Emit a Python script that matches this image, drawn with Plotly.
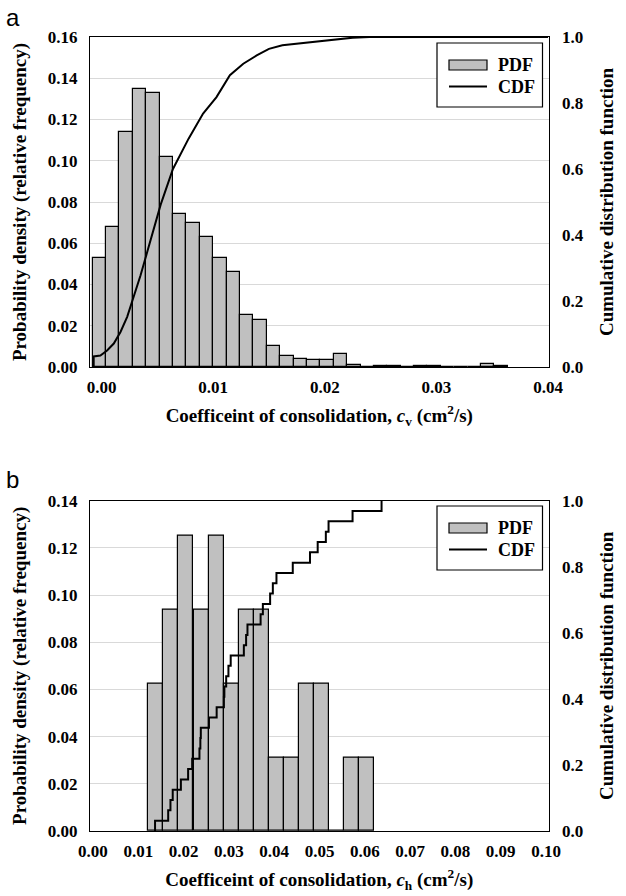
import plotly.graph_objects as go

# ---------------- data: panel a (c_v) ----------------
cv_bin_centers = [-0.0002, 0.0010, 0.0022, 0.0034, 0.0046, 0.0058, 0.0070, 0.0082, 0.0094, 0.0106,
                  0.0118, 0.0130, 0.0142, 0.0154, 0.0166, 0.0178, 0.0190, 0.0202, 0.0214, 0.0226,
                  0.0238, 0.0250, 0.0262, 0.0274, 0.0286, 0.0298, 0.0310, 0.0322, 0.0334, 0.0346,
                  0.0358]
cv_bin_width = 0.0012
cv_pdf = [0.053, 0.068, 0.114, 0.135, 0.133, 0.102, 0.074, 0.070, 0.063, 0.053,
          0.046, 0.025, 0.023, 0.010, 0.0054, 0.0041, 0.0033, 0.0033, 0.0061, 0.0008,
          0.0, 0.0006, 0.0006, 0.0, 0.0006, 0.0006, 0.0, 0.0, 0.0, 0.0016,
          0.0007]
cv_cdf_x = [-0.0007, -0.0007, -0.0001, 0.0005, 0.0011, 0.0017, 0.0023, 0.0029, 0.0035, 0.0041,
            0.0047, 0.0053, 0.0064, 0.0078, 0.0091, 0.0103, 0.0115, 0.0127, 0.0139, 0.0150,
            0.0162, 0.0175, 0.0195, 0.0212, 0.0225, 0.0240, 0.0300, 0.0400]
cv_cdf_y = [0.0, 0.032, 0.035, 0.050, 0.071, 0.106, 0.152, 0.215, 0.278, 0.349,
            0.420, 0.492, 0.600, 0.692, 0.768, 0.818, 0.884, 0.919, 0.944, 0.964,
            0.975, 0.980, 0.986, 0.992, 0.998, 1.0, 1.0, 1.0]

# ---------------- data: panel b (c_h) ----------------
ch_bin_centers = [0.0139, 0.0172, 0.0205, 0.0239, 0.0272, 0.0305, 0.0338, 0.0371, 0.0405, 0.0438,
                  0.0471, 0.0504, 0.0537, 0.0571, 0.0604]
ch_bin_width = 0.00332
ch_pdf = [0.0625, 0.09375, 0.125, 0.09375, 0.125, 0.0625, 0.09375, 0.09375, 0.03125, 0.03125,
          0.0625, 0.0625, 0.0, 0.03125, 0.03125]
# sorted sample values (32 samples) at which the empirical CDF steps
ch_samples = [0.0137, 0.0166, 0.0171, 0.0176, 0.0194, 0.0210, 0.0219, 0.0235, 0.0237, 0.0238,
              0.0256, 0.0273, 0.0289, 0.0290, 0.0294, 0.0299, 0.0304, 0.0333, 0.0338, 0.0341,
              0.0370, 0.0375, 0.0391, 0.0397, 0.0405, 0.0441, 0.0479, 0.0496, 0.0514, 0.0520,
              0.0573, 0.0637]
n_ch = len(ch_samples)
ch_cdf_x = [ch_samples[0]] + ch_samples
ch_cdf_y = [0.0] + [(i + 1) / n_ch for i in range(n_ch)]

legend_labels = ["PDF", "CDF"]

# ---------------- styling ----------------
W, H = 626, 896
SERIF = "Liberation Serif"
BAR_FILL = "#c0c0c0"
GRID = "#d9d9d9"


def px(v):
    return v / W


def py(v):
    return 1 - v / H


tickfont = dict(family=SERIF, size=17, color="black", weight="bold")
titlefont = dict(family=SERIF, size=19, color="black", weight="bold")
legfont = dict(family=SERIF, size=18, color="black", weight="bold")

fig = go.Figure()

fig.add_trace(go.Bar(x=cv_bin_centers, y=cv_pdf, width=cv_bin_width, name=legend_labels[0],
                     marker=dict(color=BAR_FILL, line=dict(color="black", width=1.2)),
                     xaxis="x", yaxis="y", showlegend=False))
fig.add_trace(go.Scatter(x=cv_cdf_x, y=cv_cdf_y, mode="lines", name=legend_labels[1],
                         line=dict(color="black", width=2),
                         xaxis="x", yaxis="y2", showlegend=False))

fig.add_trace(go.Bar(x=ch_bin_centers, y=ch_pdf, width=ch_bin_width, name=legend_labels[0],
                     marker=dict(color=BAR_FILL, line=dict(color="black", width=1.2)),
                     xaxis="x2", yaxis="y3", showlegend=False))
fig.add_trace(go.Scatter(x=ch_cdf_x, y=ch_cdf_y, mode="lines", name=legend_labels[1],
                         line=dict(color="black", width=2, shape="hv"),
                         xaxis="x2", yaxis="y4", showlegend=False))

xdom = [px(90), px(548.5)]
ydom_a = [py(367), py(37)]
ydom_b = [py(831), py(500.7)]

common_x = dict(showgrid=False, showline=True, linecolor="black", linewidth=1, mirror=True,
                ticks="outside", ticklen=5, tickcolor="rgba(0,0,0,0)", tickfont=tickfont,
                tickformat=".2f", dtick=0.01, zeroline=False, automargin=False)
common_y = dict(showgrid=True, gridcolor=GRID, gridwidth=1, showline=True, linecolor="black",
                linewidth=1, mirror=True, ticks="outside", ticklen=8,
                tickcolor="rgba(0,0,0,0)", tickfont=tickfont, zeroline=False, automargin=False)
common_y2 = dict(showgrid=False, showline=False, ticks="outside", ticklen=9,
                 tickcolor="rgba(0,0,0,0)", tickfont=tickfont, zeroline=False,
                 automargin=False, side="right", range=[0, 1.0], dtick=0.2, tickformat=".1f")

xtitle_a = "Coefficeint of consolidation, <i>c</i><sub>v</sub> (cm<sup>2</sup>/s)"
xtitle_b = "Coefficeint of consolidation, <i>c</i><sub>h</sub> (cm<sup>2</sup>/s)"
ytitle_l = "Probability density (relative frequency)"
ytitle_r = "Cumulative distribution function"

# hand-made legend boxes (wide rectangular PDF swatch as in the reference)
shapes = []
annotations = []
for top in (43, 506):
    shapes.append(dict(type="rect", xref="paper", yref="paper",
                       x0=px(437), x1=px(542.5), y0=py(top + 64), y1=py(top),
                       line=dict(color="black", width=1.2), fillcolor="white", layer="above"))
    shapes.append(dict(type="rect", xref="paper", yref="paper",
                       x0=px(449), x1=px(487), y0=py(top + 27), y1=py(top + 17),
                       line=dict(color="black", width=1.2), fillcolor=BAR_FILL, layer="above"))
    shapes.append(dict(type="line", xref="paper", yref="paper",
                       x0=px(449), x1=px(487), y0=py(top + 43.5), y1=py(top + 43.5),
                       line=dict(color="black", width=2), layer="above"))
    annotations.append(dict(text=legend_labels[0], x=px(496), y=py(top + 22), xref="paper",
                            yref="paper", xanchor="left", yanchor="middle", showarrow=False,
                            font=legfont))
    annotations.append(dict(text=legend_labels[1], x=px(496), y=py(top + 44), xref="paper",
                            yref="paper", xanchor="left", yanchor="middle", showarrow=False,
                            font=legfont))

annotations += [
    dict(text="a", x=px(4), y=py(2), xref="paper", yref="paper", xanchor="left",
         yanchor="top", showarrow=False,
         font=dict(family="Liberation Sans", size=24, color="black")),
    dict(text="b", x=px(4), y=py(464), xref="paper", yref="paper", xanchor="left",
         yanchor="top", showarrow=False,
         font=dict(family="Liberation Sans", size=24, color="black")),
]

fig.update_layout(
    width=W, height=H,
    margin=dict(l=0, r=0, t=0, b=0),
    paper_bgcolor="white", plot_bgcolor="white",
    barmode="overlay", bargap=0,
    font=dict(family=SERIF, color="black"),
    showlegend=False,
    xaxis=dict(domain=xdom, anchor="y", range=[-0.00103, 0.04004], **common_x,
               title=dict(text=xtitle_a, font=titlefont, standoff=12)),
    yaxis=dict(domain=ydom_a, anchor="x", range=[0, 0.16], dtick=0.02, tickformat=".2f",
               **common_y,
               title=dict(text=ytitle_l, font=titlefont, standoff=16)),
    yaxis2=dict(overlaying="y", anchor="x", **common_y2,
                title=dict(text=ytitle_r, font=titlefont, standoff=17)),
    xaxis2=dict(domain=xdom, anchor="y3", range=[-0.00066, 0.10055], **common_x,
                title=dict(text=xtitle_b, font=titlefont, standoff=12)),
    yaxis3=dict(domain=ydom_b, anchor="x2", range=[0, 0.14], dtick=0.02, tickformat=".2f",
                **common_y,
                title=dict(text=ytitle_l, font=titlefont, standoff=16)),
    yaxis4=dict(overlaying="y3", anchor="x2", **common_y2,
                title=dict(text=ytitle_r, font=titlefont, standoff=17)),
    shapes=shapes,
    annotations=annotations,
)

fig.write_html("out.html")
